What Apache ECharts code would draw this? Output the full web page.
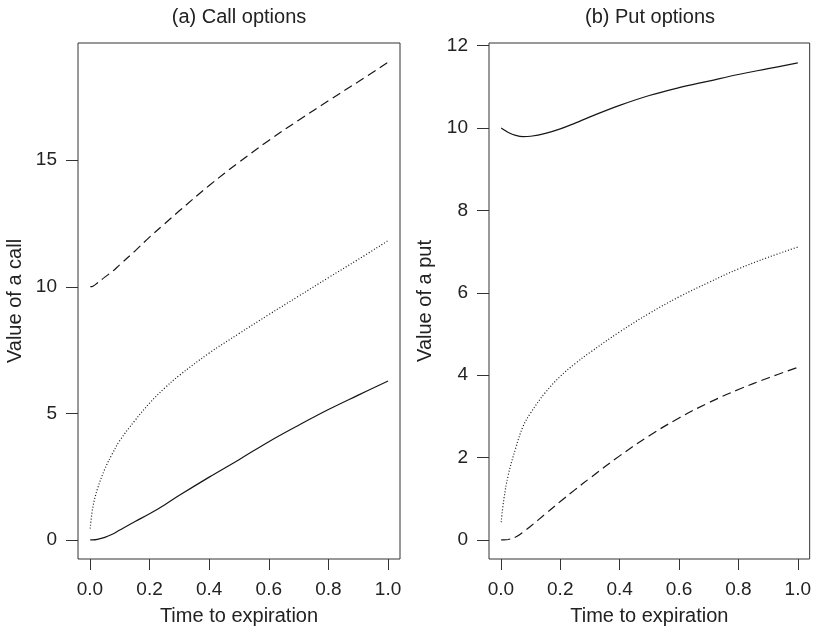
<!DOCTYPE html>
<html>
<head>
<meta charset="utf-8">
<script src="https://cdn.jsdelivr.net/npm/echarts@6/dist/echarts.min.js"></script>
<style>
  html, body { margin: 0; padding: 0; background: #fff; }
  #chart { width: 814px; height: 631px; }
</style>
</head>
<body>
<div id="chart"></div>
<script>
// ---- data ----
const times = [0.001, 0.01, 0.025, 0.05, 0.075, 0.1, 0.15, 0.2, 0.25, 0.3, 0.4, 0.5, 0.6, 0.7, 0.8, 0.9, 1.0];

// (a) Call options
const callSolid  = [0, 0, 0.02, 0.1, 0.22, 0.39, 0.72, 1.03, 1.38, 1.76, 2.48, 3.17, 3.88, 4.53, 5.15, 5.72, 6.28];
const callDotted = [0.45, 1.3, 2.0, 2.8, 3.4, 3.92, 4.7, 5.4, 5.99, 6.5, 7.38, 8.15, 8.9, 9.63, 10.36, 11.08, 11.82];
const callDashed = [10.0, 10.02, 10.15, 10.38, 10.6, 10.87, 11.4, 11.96, 12.48, 13.0, 14.0, 14.92, 15.78, 16.58, 17.35, 18.1, 18.87];

// (b) Put options
const putSolid  = [10.0, 9.96, 9.89, 9.82, 9.79, 9.8, 9.87, 9.98, 10.12, 10.27, 10.55, 10.79, 10.98, 11.14, 11.3, 11.44, 11.58];
const putDotted = [0.43, 0.98, 1.58, 2.23, 2.76, 3.08, 3.58, 3.97, 4.28, 4.55, 5.05, 5.5, 5.9, 6.25, 6.58, 6.86, 7.11];
const putDashed = [0, 0, 0.01, 0.07, 0.19, 0.33, 0.63, 0.93, 1.22, 1.5, 2.04, 2.53, 2.96, 3.33, 3.65, 3.93, 4.19];

// tick labels
const xTicks = [0, 0.2, 0.4, 0.6, 0.8, 1.0];
const callYTicks = [0, 5, 10, 15];
const putYTicks = [0, 2, 4, 6, 8, 10, 12];

// texts
const titles = ['(a) Call options', '(b) Put options'];
const xName = 'Time to expiration';
const yNames = ['Value of a call', 'Value of a put'];

// ---- chart ----
const FONT = '"Liberation Sans", Arial, Helvetica, sans-serif';
const TXT = '#222';
const LINE = '#161616';

function pairs(vals) { return times.map((t, i) => [t, vals[i]]); }

function xAxisFor(gi) {
  return {
    gridIndex: gi, type: 'value', min: -0.04, max: 1.04,
    name: xName, nameLocation: 'middle', nameGap: 47,
    nameTextStyle: { fontSize: 20, color: TXT, fontFamily: FONT },
    axisLine: { show: false, onZero: false },
    axisTick: { show: true, customValues: xTicks, length: 11, lineStyle: { color: '#333', width: 1 } },
    axisLabel: { customValues: xTicks, margin: 21, fontSize: 19, color: TXT, fontFamily: FONT,
                 formatter: v => v.toFixed(1) },
    splitLine: { show: false }
  };
}
function yAxisFor(gi, ticks, min, max, name, gap) {
  return {
    gridIndex: gi, type: 'value', min: min, max: max,
    name: name, nameLocation: 'middle', nameGap: gap, nameRotate: 90,
    nameTextStyle: { fontSize: 20, color: TXT, fontFamily: FONT },
    axisLine: { show: false, onZero: false },
    axisTick: { show: true, customValues: ticks, length: 12, lineStyle: { color: '#333', width: 1 } },
    axisLabel: { customValues: ticks, margin: 21, fontSize: 19, color: TXT, fontFamily: FONT,
                 formatter: v => String(Math.round(v)) },
    splitLine: { show: false }
  };
}
function line(gi, vals, type) {
  return {
    type: 'line', xAxisIndex: gi, yAxisIndex: gi, data: pairs(vals),
    showSymbol: false, smooth: 0.4, silent: true,
    lineStyle: { color: LINE, width: 1.2, type: type }
  };
}

const chart = echarts.init(document.getElementById('chart'), null, { renderer: 'canvas' });
chart.setOption({
  animation: false,
  backgroundColor: '#fff',
  title: [
    { text: titles[0], left: 239, top: 7, textAlign: 'center', padding: 0,
      textStyle: { fontSize: 20, fontWeight: 'normal', color: TXT, fontFamily: FONT } },
    { text: titles[1], left: 650, top: 7, textAlign: 'center', padding: 0,
      textStyle: { fontSize: 20, fontWeight: 'normal', color: TXT, fontFamily: FONT } }
  ],
  grid: [
    { left: 78, top: 43, width: 322, height: 519, show: true, borderColor: '#333', borderWidth: 1, backgroundColor: 'transparent' },
    { left: 489, top: 43, width: 323, height: 519, show: true, borderColor: '#333', borderWidth: 1, backgroundColor: 'transparent' }
  ],
  xAxis: [xAxisFor(0), xAxisFor(1)],
  yAxis: [
    yAxisFor(0, callYTicks, -0.755, 19.63, yNames[0], 53),
    yAxisFor(1, putYTicks, -0.464, 12.064, yNames[1], 54)
  ],
  series: [
    line(0, callSolid, 'solid'),
    line(0, callDotted, [1, 2]),
    line(0, callDashed, [9, 5]),
    line(1, putSolid, 'solid'),
    line(1, putDotted, [1, 2]),
    line(1, putDashed, [9, 5])
  ]
});
</script>
</body>
</html>
